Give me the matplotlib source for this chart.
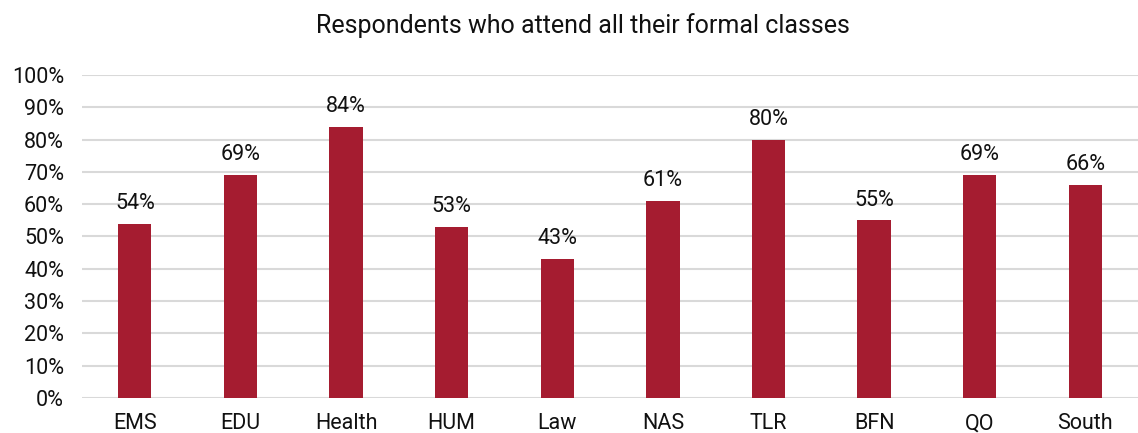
import matplotlib
matplotlib.use("Agg")
from matplotlib import pyplot as plt
from matplotlib.ticker import PercentFormatter

# share of respondents attending all formal classes, by faculty
faculties = ["EMS", "EDU", "Health", "HUM", "Law", "NAS", "TLR", "BFN", "QO", "South"]
attendance = [54, 69, 84, 53, 43, 61, 80, 55, 69, 66]

plt.rcParams["font.family"] = ["Roboto", "DejaVu Sans"]

fig = plt.figure(figsize=(11.38, 4.33), dpi=100)
ax = fig.add_axes([0.0721, 0.0808, 0.928, 0.7462])

bars = ax.bar(range(len(faculties)), attendance, width=0.315, color="#A51C30", zorder=3)
for rect, val in zip(bars, attendance):
    ax.annotate(f"{val}%", (rect.get_x() + rect.get_width() / 2, val),
                xytext=(0, 7), textcoords="offset points",
                ha="center", va="bottom", fontsize=15.5, color="#111111")

ax.set_xlim(-0.5, len(faculties) - 0.5)
ax.set_ylim(0, 100)
ax.set_yticks(range(0, 101, 10))
ax.yaxis.set_major_formatter(PercentFormatter(decimals=0))
ax.set_xticks(range(len(faculties)))
ax.set_xticklabels(faculties)
ax.tick_params(axis="both", length=0, labelsize=15.5, colors="#111111")
ax.tick_params(axis="x", pad=11)
ax.tick_params(axis="y", pad=13)
ax.grid(axis="y", color="#d9d9d9", linewidth=1.5, zorder=0)
for side in ax.spines.values():
    side.set_visible(False)

fig.text(0.512, 0.94, "Respondents who attend all their formal classes",
         ha="center", va="center", fontsize=18, color="#111111")

fig.savefig("out.png", dpi=100)
